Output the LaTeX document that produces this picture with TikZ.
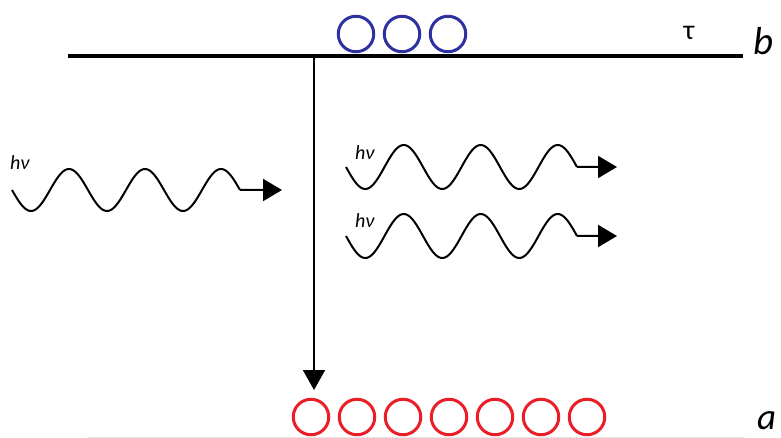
\documentclass[tikz,border=0pt]{standalone}
\usepackage{fontspec}
\setmainfont{Carlito}
\usetikzlibrary{arrows.meta}
\definecolor{cblue}{RGB}{46,49,160}
\definecolor{cred}{RGB}{235,30,40}
\tikzset{
  lvl/.style={line width=4pt},
  wave/.style={line width=2pt, line join=round},
  photonarrow/.style={line width=2pt, -{Triangle[length=19pt,width=22pt]}},
  bluedot/.style={circle, draw=cblue, line width=3pt, minimum size=35.5pt, inner sep=0pt},
  reddot/.style={circle, draw=cred, line width=3pt, minimum size=35.5pt, inner sep=0pt},
  hvlabel/.style={font=\fontsize{20}{22}\selectfont\itshape, inner sep=0pt, anchor=base west},
  biglabel/.style={font=\fontsize{39}{44}\selectfont\itshape, inner sep=0pt, anchor=base west},
}
\begin{document}
\begin{tikzpicture}[x=1pt,y=-1pt]
\useasboundingbox (0,0) rectangle (781,438);
% faint bottom line
\draw[black!10, line width=0.8pt] (87,437) -- (745,437);
% level b
\coordinate (bL) at (68,56);
\coordinate (bR) at (743,56);
\draw[lvl] (bL) -- (bR);
\node[biglabel] (lb) at (753,55) {b};
\node[font=\fontsize{28}{30}\selectfont, inner sep=0pt, anchor=base] (tau) at (689,40) {τ};
% blue circles
\node[bluedot] (b1) at (356,34) {};
\node[bluedot] (b2) at (402,34) {};
\node[bluedot] (b3) at (448,34) {};
% red circles
\foreach \i in {0,...,6}{
  \node[reddot] (r\i) at ({311+46*\i},417) {};
}
\node[biglabel, font=\fontsize{37}{40}\selectfont\itshape] (la) at (757,429) {a};
% decay arrow
\coordinate (dtop) at (314,56);
\coordinate (dbot) at (314,390);
\draw[line width=2pt, -{Triangle[length=20pt,width=22pt]}] (dtop) -- (dbot);
% incoming photon
\draw[wave] plot[domain=0:228, samples=150, smooth] ({12+\x},{190+21*sin(\x*4.7368)}) coordinate (w1e);
\coordinate (w1t) at (282,190);
\draw[photonarrow] (w1e) -- (w1t);
\node[hvlabel] (h1) at (10,170) {hν};
% outgoing photons
\draw[wave] plot[domain=0:231, samples=150, smooth] ({346+\x},{167+22*sin(\x*4.6753)}) coordinate (w2e);
\coordinate (w2t) at (617,167);
\draw[photonarrow] (w2e) -- (w2t);
\node[hvlabel] (h2) at (355,160) {hν};
\draw[wave] plot[domain=0:231, samples=150, smooth] ({346+\x},{236+22*sin(\x*4.6753)}) coordinate (w3e);
\coordinate (w3t) at (617,236);
\draw[photonarrow] (w3e) -- (w3t);
\node[hvlabel] (h3) at (355,228) {hν};
\end{tikzpicture}
\end{document}
